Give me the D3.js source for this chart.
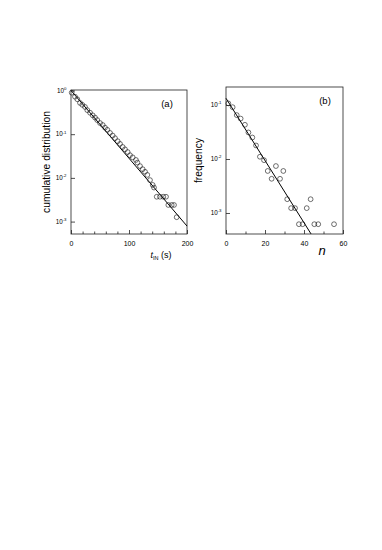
<!DOCTYPE html>
<html>
<head>
<meta charset="utf-8">
<script src="https://cdn.jsdelivr.net/npm/d3@7"></script>
<style>
  body { margin: 0; background: #fff; }
  text { font-family: "Liberation Sans", Arial, Helvetica, sans-serif; fill: #000; }
</style>
</head>
<body>
<svg id="fig" width="382" height="550"></svg>
<script>
// panel (a): cumulative distribution of t_IN
var tIn = [1.2, 6.9, 10.9, 15.5, 19.5, 24.1, 28.1, 32.8, 37.4, 41.4, 45.3, 50, 54.7, 58.6,
  62.6, 67.2, 71.8, 75.9, 80.5, 84.5, 89.1, 93.1, 97.7, 101.7, 106.3, 112, 114.4, 119,
  123.6, 127.6, 131.6, 136.2, 140.8, 143.1, 147.8, 153.4, 159.1, 163.8, 167.8, 173.6,
  177.6, 182.2]
var cumDist = [0.89, 0.72, 0.63, 0.52, 0.47, 0.42, 0.355, 0.31, 0.27, 0.24, 0.21, 0.18,
  0.162, 0.141, 0.126, 0.107, 0.093, 0.081, 0.069, 0.060, 0.051, 0.045, 0.039, 0.033,
  0.0295, 0.0257, 0.0224, 0.0186, 0.0158, 0.0138, 0.0117, 0.0089, 0.0069, 0.0060,
  0.0037, 0.0037, 0.0037, 0.0037, 0.0024, 0.0024, 0.0024, 0.00126]
var fitA_t = [0, 200]
var fitA_v = [1, 0.00079]
var majorA = [0, 100, 200]
var minorA = [20, 40, 60, 80, 120, 140, 160, 180]
var decadesA = [1, 0.1, 0.01, 0.001]

// panel (b): frequency of n
var nVals = [1.2, 3.4, 5.5, 7.5, 9.7, 11.5, 13.5, 15.4, 17.4, 19.5, 21.4, 23.4, 25.6,
  27.7, 29.4, 31.4, 33.4, 35.4, 37.4, 39.3, 41.4, 43.4, 45.3, 47.3, 55.4]
var freq = [0.107, 0.091, 0.065, 0.056, 0.043, 0.031, 0.025, 0.0178, 0.011, 0.0095,
  0.0060, 0.0043, 0.0074, 0.0043, 0.0060, 0.0018, 0.00123, 0.00123, 0.00062, 0.00062,
  0.00123, 0.0018, 0.00062, 0.00062, 0.00062]
var fitB_n = [0, 43.6]
var fitB_v = [0.133, 0.00041]
var majorB = [0, 20, 40, 60]
var minorB = [10, 30, 50]
var decadesB = [0.1, 0.01, 0.001]

var SVG = d3.select("#fig")

SVG.append("rect")
  .attr("width", 382)
  .attr("height", 550)
  .attr("fill", "#fff")

function exponent(d) {
  return String(Math.round(Math.log10(d)))
}

function drawPanel(p) {
  var x = d3.scaleLinear().domain(p.xDomain).range([p.left, p.right])
  var y = d3.scaleLog().domain(p.yDomain).range([p.bottom, p.top])

  var g = SVG.append("g")

  // frame
  g.append("rect")
    .attr("x", p.left)
    .attr("y", p.top)
    .attr("width", p.right - p.left)
    .attr("height", p.bottom - p.top)
    .attr("fill", "none")
    .attr("stroke", "#222")
    .attr("stroke-width", 0.8)

  // bottom axis, ticks pointing inward
  var xMajor = g.append("g")
    .attr("transform", "translate(0," + p.bottom + ")")
    .call(d3.axisBottom(x).tickValues(p.major).tickSize(-4).tickPadding(7))
  var xMinor = g.append("g")
    .attr("transform", "translate(0," + p.bottom + ")")
    .call(d3.axisBottom(x).tickValues(p.minor).tickSize(-2.5).tickFormat(""))
  xMajor.selectAll("text")
    .attr("font-size", 7)
    .attr("font-family", '"Liberation Sans", Arial, sans-serif')

  // left log axis, labels written as 10^k
  var yAxis = g.append("g")
    .attr("transform", "translate(" + p.left + ",0)")
    .call(d3.axisLeft(y).tickValues(p.decades).tickSize(-4).tickFormat(""))

  ;[xMajor, xMinor, yAxis].forEach(function(a) {
    a.select(".domain").remove()
    a.selectAll("line").attr("stroke", "#222").attr("stroke-width", 0.8)
  })

  p.decades.forEach(function(d) {
    var t = g.append("text")
      .attr("x", p.left - 4.5)
      .attr("y", y(d) + 2.3)
      .attr("text-anchor", "end")
      .attr("font-size", 6.3)
    t.append("tspan").text("10")
    t.append("tspan")
      .attr("dy", -2.8)
      .attr("font-size", 4.3)
      .text(exponent(d))
  })

  // fitted line
  var line = d3.line()
    .x(function(d) { return x(d[0]) })
    .y(function(d) { return y(d[1]) })
  g.append("path")
    .datum(d3.zip(p.fitX, p.fitY))
    .attr("d", line)
    .attr("fill", "none")
    .attr("stroke", "#000")
    .attr("stroke-width", 1)

  // data points
  g.selectAll(".pt")
    .data(d3.zip(p.xs, p.ys))
    .enter().append("circle")
    .attr("class", "pt")
    .attr("cx", function(d) { return x(d[0]) })
    .attr("cy", function(d) { return y(d[1]) })
    .attr("r", 2.4)
    .attr("fill", "none")
    .attr("stroke", "#111")
    .attr("stroke-width", 0.6)

  // panel letter
  g.append("text")
    .attr("x", p.letterX)
    .attr("y", p.top + 17)
    .attr("text-anchor", "middle")
    .attr("font-size", 9.5)
    .text(p.letter)

  // y label
  g.append("text")
    .attr("transform", "translate(" + p.yLabelX + "," + ((p.top + p.bottom) / 2) + ") rotate(-90)")
    .attr("text-anchor", "middle")
    .attr("font-size", 10.3)
    .text(p.yLabel)

  return g
}

var gA = drawPanel({
  left: 71, right: 187, top: 90, bottom: 234,
  xDomain: [0, 200], yDomain: [Math.pow(10, -3.284), Math.pow(10, 0.011)],
  major: majorA, minor: minorA, decades: decadesA,
  xs: tIn, ys: cumDist, fitX: fitA_t, fitY: fitA_v,
  letter: "(a)", letterX: 167, yLabel: "cumulative distribution", yLabelX: 50
})

var gB = drawPanel({
  left: 226, right: 343, top: 87, bottom: 234,
  xDomain: [0, 60], yDomain: [Math.pow(10, -3.389), Math.pow(10, -0.667)],
  major: majorB, minor: minorB, decades: decadesB,
  xs: nVals, ys: freq, fitX: fitB_n, fitY: fitB_v,
  letter: "(b)", letterX: 325, yLabel: "frequency", yLabelX: 202
})

// x labels
var labA = gA.append("text")
  .attr("x", 161)
  .attr("y", 258)
  .attr("text-anchor", "middle")
  .attr("font-size", 9)
labA.append("tspan").attr("font-style", "italic").text("t")
labA.append("tspan").attr("font-size", 5.5).attr("dy", 2).text("IN")
labA.append("tspan").attr("dy", -2).text(" (s)")

gB.append("text")
  .attr("x", 322)
  .attr("y", 255)
  .attr("text-anchor", "middle")
  .attr("font-size", 13)
  .attr("font-style", "italic")
  .text("n")
</script>
</body>
</html>
